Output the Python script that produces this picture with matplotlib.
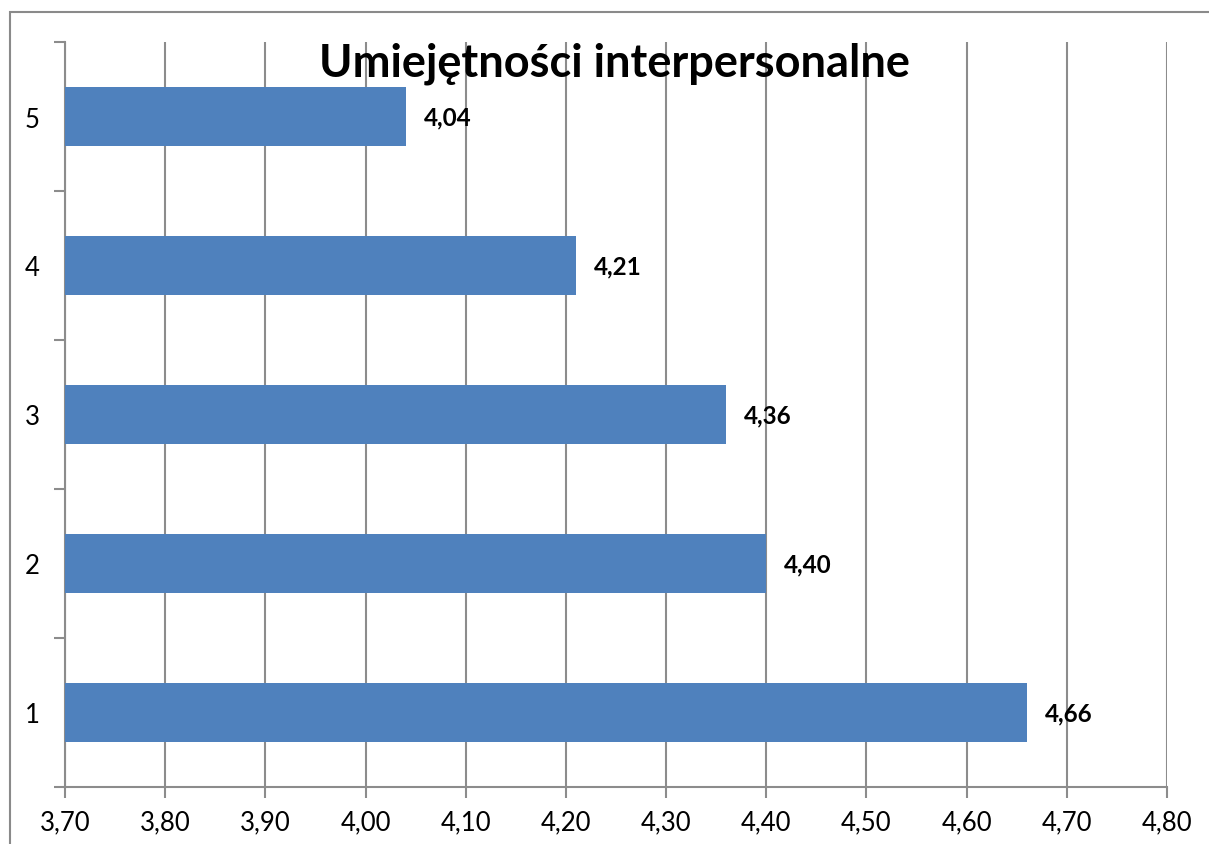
import matplotlib.pyplot as plt
from matplotlib.patches import Rectangle
from matplotlib.ticker import FuncFormatter

# chart data
categories = ["1", "2", "3", "4", "5"]
values = [4.66, 4.40, 4.36, 4.21, 4.04]
x_ticks = [3.70, 3.80, 3.90, 4.00, 4.10, 4.20, 4.30, 4.40, 4.50, 4.60, 4.70, 4.80]
title = "Umiejętności interpersonalne"

W, H = 1209, 845
plt.rcParams['font.family'] = ['Lato', 'DejaVu Sans']

fig = plt.figure(figsize=(W / 100, H / 100), dpi=100)
ax = fig.add_axes([65 / W, 1 - 788 / H, (1167 - 65) / W, (788 - 43) / H])

# outer chart frame (cut off at right and bottom)
fig.patches.append(Rectangle((10 / W, -0.1), 1.2, (H - 13) / H + 0.1,
                             transform=fig.transFigure, fill=False,
                             edgecolor="#8a8a8a", linewidth=1.5))

ypos = list(range(len(categories)))
ax.barh(ypos, [v - 3.70 for v in values], left=3.70, height=0.4,
        color="#4F81BD", zorder=3)

for y, v in zip(ypos, values):
    ax.text(v + 0.018, y, f"{v:.2f}".replace(".", ","), va="center", ha="left",
            fontsize=17.5, fontweight="bold", color="black", zorder=4)

ax.set_xlim(3.70, 4.80)
ax.set_ylim(-0.5, len(categories) - 0.5)
ax.set_xticks(x_ticks)
ax.xaxis.set_major_formatter(FuncFormatter(lambda x, _: f"{x:.2f}".replace(".", ",")))
ax.set_yticks(ypos)
ax.set_yticklabels(categories)
ax.set_yticks([i - 0.5 for i in range(len(categories) + 1)], minor=True)

ax.grid(axis="x", color="#8c8c8c", linewidth=1.5, zorder=0)
for side in ["top", "right"]:
    ax.spines[side].set_visible(False)
for side in ["left", "bottom"]:
    ax.spines[side].set_color("#8c8c8c")
    ax.spines[side].set_linewidth(1.5)

ax.tick_params(axis="x", length=8, width=1.5, color="#8c8c8c", labelsize=18.5, pad=8)
ax.tick_params(axis="y", which="major", length=0, labelsize=18.5, pad=18)
ax.tick_params(axis="y", which="minor", length=8, width=1.5, color="#8c8c8c")

fig.text(614 / W, 1 - 64 / H, title, ha="center", va="center",
         fontsize=32.5, fontweight="bold", color="black")

fig.savefig("out.png", dpi=100, facecolor="white")
